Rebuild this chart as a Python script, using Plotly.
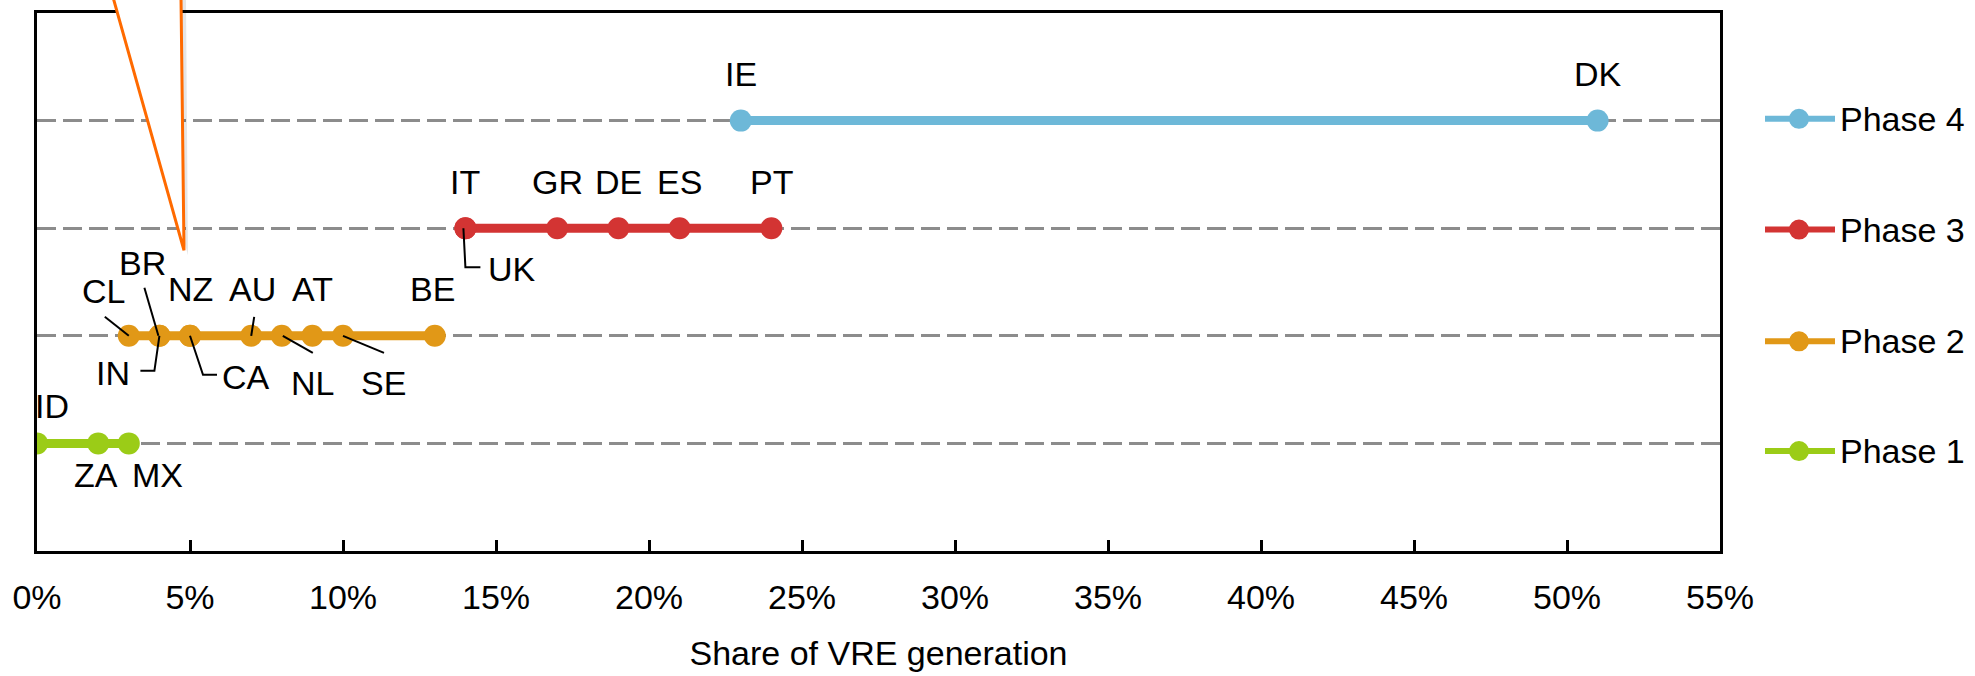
import plotly.graph_objects as go

# ---------------- data ----------------
phase_names = ["Phase 1", "Phase 2", "Phase 3", "Phase 4"]
phase_levels = [1, 2, 3, 4]
phase_colors = ["#9BCC17", "#E19817", "#D33433", "#6DB8D8"]

phase1_countries = ["ID", "ZA", "MX"]
phase1_share = [0, 2, 3]
phase2_countries = ["CL", "IN", "BR", "NZ", "CA", "AU", "NL", "AT", "SE", "BE"]
phase2_share = [3, 4, 4, 5, 5, 7, 8, 9, 10, 13]
phase3_countries = ["IT", "UK", "GR", "DE", "ES", "PT"]
phase3_share = [14, 14, 17, 19, 21, 24]
phase4_countries = ["IE", "DK"]
phase4_share = [23, 51]

x_ticks = [0, 5, 10, 15, 20, 25, 30, 35, 40, 45, 50, 55]
x_title = "Share of VRE generation"

# ---------------- label placement (pixel offsets from the point) ----------------
# (xshift, yshift, leader path in pixels relative to point or None)
label_place = {
    "ID": (15, 37, None),
    "ZA": (-2, -32, None),
    "MX": (29, -32, None),
    "CL": (-25, 45, [(-24, 19), (0, 0)]),
    "BR": (-17, 73, [(-15, 48), (-1, 0)]),
    "IN": (-46, -37, [(0, 0), (-5, -35), (-19, -35)]),
    "NZ": (0, 47, None),
    "CA": (56, -41, [(0, 0), (13, -39), (27, -39)]),
    "AU": (1, 47, [(3, 19), (0, 0)]),
    "NL": (31, -47, [(1, 0), (31, -17)]),
    "AT": (0, 47, None),
    "SE": (40, -47, [(0, 0), (41, -17)]),
    "BE": (-2, 47, None),
    "IT": (0, 46, None),
    "UK": (47, -41, [(-2, 0), (0, -39), (15, -39)]),
    "GR": (0, 46, None),
    "DE": (0, 46, None),
    "ES": (0, 46, None),
    "PT": (0, 46, None),
    "IE": (0, 47, None),
    "DK": (0, 47, None),
}

FONT = "Liberation Sans, Arial, sans-serif"
FS = 34

W, H = 1975, 676
ML, MR, MT, MB = 37, 255, 10, 122
PW = W - ML - MR
PH = H - MT - MB


def px_x(px):
    return (px - ML) / PW


def px_y(py):
    return (MT + PH - py) / PH


series = [
    (phase1_countries, phase1_share),
    (phase2_countries, phase2_share),
    (phase3_countries, phase3_share),
    (phase4_countries, phase4_share),
]

fig = go.Figure()
annotations = []
shapes = []

for (countries, shares), name, level, color in zip(series, phase_names, phase_levels, phase_colors):
    fig.add_trace(go.Scatter(
        x=shares, y=[level] * len(shares), mode="lines+markers", name=name,
        line=dict(color=color, width=9), marker=dict(color=color, size=22),
        showlegend=False, hoverinfo="x+text", text=countries,
    ))
    for c, v in zip(countries, shares):
        xs, ys, leader = label_place[c]
        annotations.append(dict(
            x=v, y=level, xref="x", yref="y", text=c, showarrow=False,
            xshift=xs, yshift=ys, font=dict(family=FONT, size=FS, color="black"),
        ))
        if leader:
            path = "M" + " L".join(f"{a},{b}" for a, b in leader)
            shapes.append(dict(
                type="path", xref="x", yref="y", xsizemode="pixel", ysizemode="pixel",
                xanchor=v, yanchor=level, path=path,
                line=dict(color="black", width=2), layer="above",
            ))

# custom legend (right side)
legend_rows = [453, 342, 229, 117]
for name, color, row in zip(phase_names, phase_colors, legend_rows):
    shapes.append(dict(type="line", xref="paper", yref="paper",
                       x0=px_x(1765), x1=px_x(1835), y0=px_y(row), y1=px_y(row),
                       line=dict(color=color, width=6)))
    shapes.append(dict(type="circle", xref="paper", yref="paper",
                       xsizemode="pixel", ysizemode="pixel",
                       xanchor=px_x(1799), yanchor=px_y(row),
                       x0=-10, x1=10, y0=-10, y1=10,
                       fillcolor=color, line=dict(width=0)))
    annotations.append(dict(x=px_x(1838), y=px_y(row), xref="paper", yref="paper",
                            xanchor="left", yanchor="middle", text=name, showarrow=False,
                            font=dict(family=FONT, size=FS, color="black")))

# orange call-out pointer at top-left (shadow + shape)
shapes.append(dict(type="path", xref="paper", yref="paper",
                   path=f"M{px_x(117)},{px_y(-6)} L{px_x(188)},{px_y(255)} L{px_x(186)},{px_y(-6)} Z",
                   fillcolor="rgba(0,0,0,0.10)", line=dict(width=0), layer="above"))
shapes.append(dict(type="path", xref="paper", yref="paper",
                   path=f"M{px_x(113)},{px_y(-6)} L{px_x(184)},{px_y(250)} L{px_x(181)},{px_y(-6)} Z",
                   fillcolor="white", line=dict(color="#FF6A00", width=3), layer="above"))

fig.update_layout(
    width=W, height=H, autosize=False,
    margin=dict(l=ML, r=MR, t=MT, b=MB, pad=0),
    paper_bgcolor="white", plot_bgcolor="white",
    font=dict(family=FONT, size=FS, color="black"),
    annotations=annotations, shapes=shapes, showlegend=False,
)
fig.update_xaxes(
    range=[0, 55], tickvals=x_ticks, ticktext=[f"{t}%" for t in x_ticks],
    showgrid=False, zeroline=False, showline=True, linecolor="black", linewidth=2.5, mirror=True,
    ticks="inside", ticklen=11, tickwidth=2.5, tickcolor="black",
    tickfont=dict(family=FONT, size=FS, color="black"), ticklabelstandoff=14,
    title=dict(text=x_title, font=dict(family=FONT, size=FS, color="black"), standoff=27),
)
fig.update_yaxes(
    range=[0, 5], tickvals=[1, 2, 3, 4], showticklabels=False,
    showgrid=True, gridcolor="#8C8C8C", gridwidth=2.5, griddash="19px,7px",
    zeroline=False, showline=True, linecolor="black", linewidth=2.5, mirror=True, ticks="",
)

fig.write_html("out.html")
